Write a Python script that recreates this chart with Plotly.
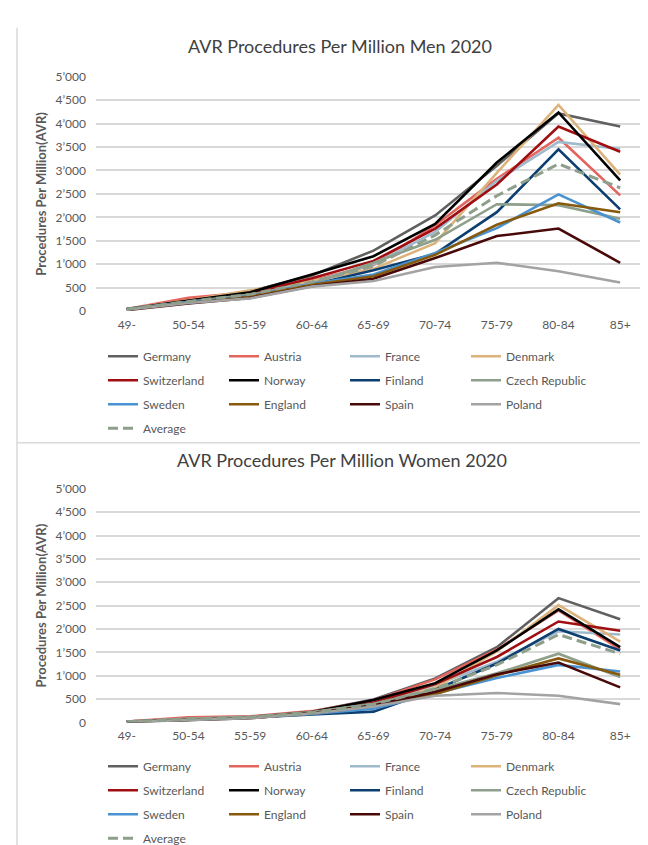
import plotly.graph_objects as go

age_groups = ["49-", "50-54", "55-59", "60-64", "65-69", "70-74", "75-79", "80-84", "85+"]
y_tick_values = [0, 500, 1000, 1500, 2000, 2500, 3000, 3500, 4000, 4500, 5000]
y_tick_labels = ["0", "500", "1’000", "1’500", "2’000", "2’500", "3’000", "3’500", "4’000", "4’500", "5’000"]

series_names = ["Germany", "Austria", "France", "Denmark", "Switzerland", "Norway",
                "Finland", "Czech Republic", "Sweden", "England", "Spain", "Poland", "Average"]

# Men 2020 (procedures per million)
men_germany = [40, 200, 420, 760, 1290, 2040, 3100, 4220, 3940]
men_austria = [40, 280, 400, 650, 980, 1830, 2820, 3700, 2470]
men_france = [40, 210, 360, 620, 1000, 1690, 2780, 3610, 3460]
men_denmark = [50, 230, 440, 640, 900, 1450, 2950, 4400, 2910]
men_switzerland = [35, 220, 380, 700, 1070, 1760, 2700, 3940, 3400]
men_norway = [40, 220, 400, 780, 1170, 1860, 3170, 4240, 2790]
men_finland = [30, 190, 330, 560, 870, 1220, 2110, 3450, 2170]
men_czech = [40, 200, 350, 580, 1030, 1520, 2280, 2260, 1970]
men_sweden = [40, 190, 320, 580, 780, 1240, 1770, 2490, 1890]
men_england = [35, 180, 310, 560, 740, 1200, 1840, 2300, 2110]
men_spain = [20, 160, 280, 530, 690, 1130, 1600, 1760, 1030]
men_poland = [30, 170, 270, 520, 640, 940, 1030, 850, 610]
men_average = [38, 205, 355, 620, 960, 1620, 2460, 3140, 2630]

# Women 2020 (procedures per million)
women_germany = [15, 80, 120, 230, 490, 940, 1610, 2660, 2210]
women_austria = [15, 110, 130, 240, 470, 920, 1560, 2400, 1560]
women_france = [10, 70, 110, 200, 400, 800, 1300, 1950, 1880]
women_denmark = [10, 60, 100, 200, 380, 740, 1520, 2510, 1730]
women_switzerland = [10, 70, 110, 210, 420, 820, 1400, 2160, 1960]
women_norway = [10, 60, 110, 220, 480, 840, 1540, 2420, 1610]
women_finland = [10, 60, 100, 170, 230, 700, 1260, 2000, 1540]
women_czech = [15, 80, 120, 220, 400, 700, 1050, 1470, 970]
women_sweden = [10, 60, 100, 180, 290, 620, 950, 1230, 1090]
women_england = [10, 60, 100, 190, 350, 600, 1010, 1370, 1020]
women_spain = [10, 50, 90, 200, 360, 650, 1030, 1280, 750]
women_poland = [10, 50, 90, 190, 340, 570, 630, 570, 390]
women_average = [12, 70, 108, 205, 390, 720, 1230, 1880, 1470]

men_series = [men_germany, men_austria, men_france, men_denmark, men_switzerland, men_norway,
              men_finland, men_czech, men_sweden, men_england, men_spain, men_poland, men_average]
women_series = [women_germany, women_austria, women_france, women_denmark, women_switzerland,
                women_norway, women_finland, women_czech, women_sweden, women_england,
                women_spain, women_poland, women_average]

colors = ["#606060", "#E4645E", "#9FBACB", "#DDB37C", "#A10E12", "#000000",
          "#0D3E70", "#8E9F8B", "#4A93D2", "#87590D", "#4A0909", "#A3A3A3", "#8E9F8B"]

W, H = 648, 845
ML, MR = 88, 5
PW = W - ML - MR


def fx(px):
    return (px - ML) / PW


def fy(py):
    return 1 - py / H


fig = go.Figure()

for i, name in enumerate(series_names):
    dash = "10px,5px" if name == "Average" else "solid"
    width = 3 if name == "Average" else 2.6
    fig.add_trace(go.Scatter(
        x=age_groups, y=men_series[i], name=name, mode="lines",
        line=dict(color=colors[i], width=width, dash=dash),
        xaxis="x", yaxis="y", legend="legend", legendgroup="m" + str(i)))
for i, name in enumerate(series_names):
    dash = "10px,5px" if name == "Average" else "solid"
    width = 3 if name == "Average" else 2.6
    fig.add_trace(go.Scatter(
        x=age_groups, y=women_series[i], name=name, mode="lines",
        line=dict(color=colors[i], width=width, dash=dash),
        xaxis="x2", yaxis="y2", legend="legend2", legendgroup="w" + str(i)))

font_family = "Lato, 'Open Sans', sans-serif"
tick_font = dict(family=font_family, size=12, color="#595959")

xaxis_common = dict(type="category", range=[-0.5, 8.5], showgrid=False, zeroline=False,
                    showline=False, ticks="", tickfont=tick_font, ticklabelstandoff=5,
                    domain=[0, 1])
yaxis_common = dict(range=[0, 5000], tickvals=y_tick_values, ticktext=y_tick_labels,
                    showgrid=True, gridcolor="#D9D9D9", gridwidth=1.5, zeroline=False,
                    showline=False, ticks="", tickfont=tick_font, ticklabelstandoff=9,
                    title=dict(text="<b>Procedures Per Million(AVR)</b>",
                               font=dict(family=font_family, size=13, color="#595959"),
                               standoff=6))

legend_common = dict(orientation="h", traceorder="grouped", tracegroupgap=5,
                     entrywidth=76, entrywidthmode="pixels", xanchor="left", yanchor="top",
                     font=dict(family=font_family, size=12, color="#595959"),
                     bgcolor="rgba(0,0,0,0)")

fig.update_layout(
    width=W, height=H,
    margin=dict(l=ML, r=MR, t=0, b=0),
    paper_bgcolor="white", plot_bgcolor="white",
    showlegend=True,
    xaxis=dict(xaxis_common, anchor="y"),
    yaxis=dict(yaxis_common, domain=[fy(300.7), fy(62)], anchor="x"),
    xaxis2=dict(xaxis_common, anchor="y2"),
    yaxis2=dict(yaxis_common, domain=[fy(720), fy(482)], anchor="x2"),
    legend=dict(legend_common, x=fx(95), y=fy(332)),
    legend2=dict(legend_common, x=fx(95), y=fy(750)),
    annotations=[
        dict(text="AVR Procedures Per Million Men 2020", xref="paper", yref="paper",
             x=fx(332), y=fy(31), xanchor="center", yanchor="middle", showarrow=False,
             font=dict(family=font_family, size=18, color="#404040")),
        dict(text="AVR Procedures Per Million Women 2020", xref="paper", yref="paper",
             x=fx(334), y=fy(453), xanchor="center", yanchor="middle", showarrow=False,
             font=dict(family=font_family, size=18, color="#404040")),
    ],
    shapes=[
        dict(type="line", xref="paper", yref="paper", x0=fx(9), x1=fx(9), y0=fy(12), y1=fy(845),
             line=dict(color="#D9D9D9", width=1.5)),
        dict(type="line", xref="paper", yref="paper", x0=fx(9), x1=fx(648), y0=fy(435), y1=fy(435),
             line=dict(color="#D9D9D9", width=1.5)),
    ],
)

fig.write_html("out.html")
